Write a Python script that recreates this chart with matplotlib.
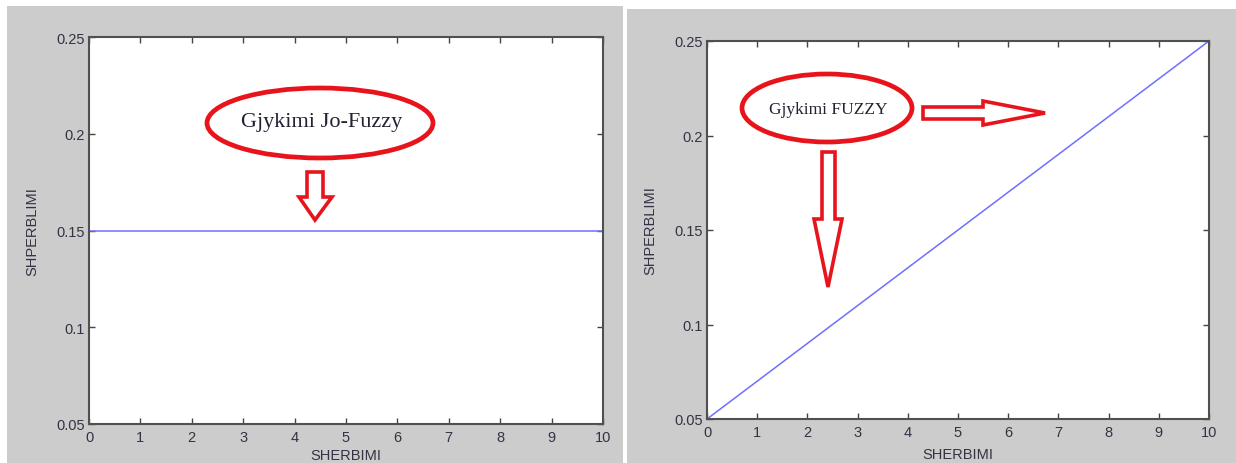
import numpy as np
import matplotlib
matplotlib.use('Agg')
import matplotlib.pyplot as plt
from matplotlib.patches import Rectangle, Ellipse, Polygon

# data
x_vals = [0, 10]
jo_fuzzy = [0.15, 0.15]
fuzzy = [0.05, 0.25]
x_ticks = list(range(0, 11))
y_ticks = [0.05, 0.1, 0.15, 0.2, 0.25]
y_tick_labels = ['0.05', '0.1', '0.15', '0.2', '0.25']

W, H = 1236, 464
fig = plt.figure(figsize=(W / 100, H / 100), dpi=100)
fig.patch.set_facecolor('white')


def px(x, y):
    return (x / W, 1 - y / H)


def box(x0, y0, x1, y1):
    return [x0 / W, 1 - y1 / H, (x1 - x0) / W, (y1 - y0) / H]


# grey panels
fig.patches.append(Rectangle(px(7, 464), 616 / W, 457 / H, transform=fig.transFigure,
                             facecolor='#cccccc', edgecolor='none', zorder=-10))
fig.patches.append(Rectangle(px(627, 464), 609 / W, 454 / H, transform=fig.transFigure,
                             facecolor='#cccccc', edgecolor='none', zorder=-10))


def style_axes(ax, y, xpad):
    ax.plot(x_vals, y, color='#6f6fff', linewidth=1.1)
    ax.set_xlim(0, 10)
    ax.set_ylim(0.05, 0.25)
    ax.set_xticks(x_ticks)
    ax.set_yticks(y_ticks)
    ax.set_yticklabels(y_tick_labels)
    ax.tick_params(direction='in', top=True, right=True, length=4, width=1,
                   colors='#444444', labelsize=10.5, pad=3)
    ax.tick_params(axis='x', pad=4)
    for lbl in ax.get_xticklabels() + ax.get_yticklabels():
        lbl.set_family('Liberation Sans')
        lbl.set_color('#333344')
    for s in ax.spines.values():
        s.set_color('#505050')
        s.set_linewidth(1.5)
    ax.set_xlabel('SHERBIMI', family='Liberation Sans', fontsize=10.5, color='#333344', labelpad=xpad)
    ax.set_ylabel('SHPERBLIMI', family='Liberation Sans', fontsize=10.5, color='#333344', labelpad=12)
    ax.set_facecolor('white')


ax1 = fig.add_axes(box(89, 38, 603, 425))
style_axes(ax1, jo_fuzzy, 3)
ax2 = fig.add_axes(box(707, 42, 1209, 420))
style_axes(ax2, fuzzy, 6)

red = '#e8141c'


def add_ellipse(cx, cy, w, h):
    fig.add_artist(Ellipse(px(cx, cy), w / W, h / H, transform=fig.transFigure,
                           facecolor='none', edgecolor=red, linewidth=3.4, zorder=5))


def add_poly(pts):
    fig.add_artist(Polygon([px(a, b) for a, b in pts], closed=True, transform=fig.transFigure,
                           facecolor='white', edgecolor=red, linewidth=2.6, zorder=5))


# left annotation
add_ellipse(320, 124, 226, 70)
fig.text(*px(322, 123), 'Gjykimi Jo-Fuzzy', family='Liberation Serif', fontsize=16,
         color='#222233', ha='center', va='center', zorder=6)
add_poly([(307, 173), (323, 173), (323, 198), (332, 198), (315, 221),
          (299, 198), (307, 198)])

# right annotation
add_ellipse(827, 109, 170, 68)
fig.text(*px(828, 110), 'Gjykimi FUZZY', family='Liberation Serif', fontsize=12.5,
         color='#222233', ha='center', va='center', zorder=6)
add_poly([(923, 108), (983, 108), (983, 102), (1045, 114), (983, 126),
          (983, 120), (923, 120)])
add_poly([(822, 153), (835, 153), (835, 220), (842, 220), (828, 288),
          (814, 220), (822, 220)])

plt.savefig('out.png', dpi=100)
